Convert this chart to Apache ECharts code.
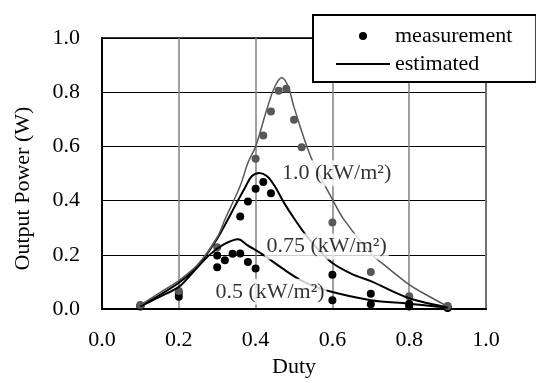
<!DOCTYPE html>
<html>
<head>
<meta charset="utf-8">
<script src="https://cdn.jsdelivr.net/npm/echarts@6/dist/echarts.min.js"></script>
<style>
  html, body { margin: 0; padding: 0; background: #fff; }
  #chart { width: 536px; height: 383px; }
</style>
</head>
<body>
<div id="chart"></div>
<script>
// measured output power [duty, W] for each irradiance
const meas100 = [[0.1, 0.015], [0.2, 0.067], [0.3, 0.228], [0.4, 0.555], [0.42, 0.64], [0.44, 0.729],
  [0.46, 0.805], [0.48, 0.813], [0.5, 0.698], [0.52, 0.597], [0.6, 0.319], [0.7, 0.137], [0.8, 0.047], [0.9, 0.011]];
const meas075 = [[0.1, 0.012], [0.2, 0.06], [0.3, 0.198], [0.36, 0.342], [0.38, 0.397], [0.4, 0.444],
  [0.42, 0.469], [0.44, 0.427], [0.6, 0.127], [0.7, 0.057], [0.8, 0.02], [0.9, 0.006]];
const meas050 = [[0.1, 0.01], [0.2, 0.046], [0.3, 0.154], [0.32, 0.18], [0.34, 0.204], [0.36, 0.205],
  [0.38, 0.174], [0.4, 0.15], [0.6, 0.033], [0.7, 0.018], [0.8, 0.01], [0.9, 0.004]];

// estimated curves
const est100 = [[0.1, 0.015], [0.15, 0.06], [0.2, 0.105], [0.25, 0.165], [0.3, 0.265], [0.32, 0.33],
  [0.36, 0.455], [0.38, 0.54], [0.4, 0.6], [0.43, 0.74], [0.45, 0.82], [0.468, 0.853], [0.485, 0.82],
  [0.5, 0.745], [0.54, 0.575], [0.57, 0.485], [0.6, 0.405], [0.63, 0.33], [0.7, 0.205], [0.733, 0.165],
  [0.8, 0.09], [0.83, 0.064], [0.9, 0.01]];
const est075 = [[0.1, 0.012], [0.15, 0.052], [0.2, 0.097], [0.25, 0.16], [0.3, 0.26], [0.32, 0.31],
  [0.35, 0.39], [0.372, 0.447], [0.39, 0.49], [0.41, 0.502], [0.43, 0.49], [0.45, 0.453], [0.475, 0.39],
  [0.5, 0.335], [0.53, 0.275], [0.56, 0.225], [0.6, 0.17], [0.65, 0.13], [0.7, 0.103], [0.8, 0.04], [0.9, 0.007]];
const est050 = [[0.1, 0.01], [0.15, 0.045], [0.2, 0.082], [0.23, 0.125], [0.28, 0.2], [0.316, 0.238],
  [0.355, 0.258], [0.377, 0.237], [0.42, 0.2], [0.47, 0.15], [0.516, 0.108], [0.56, 0.08], [0.6, 0.063],
  [0.7, 0.033], [0.8, 0.02], [0.9, 0.005]];

// irradiance labels and the [duty, W] point they sit on
const curveLabels = ['1.0 (kW/m²)', '0.75 (kW/m²)', '0.5 (kW/m²)'];
const labelAnchors = [[0.611, 0.501], [0.585, 0.231], [0.4375, 0.064]];

const font = '"Liberation Serif", "Times New Roman", serif';
const gray = '#585858';

function estimated(data, color, width) {
  return {
    name: 'estimated', type: 'line', data: data, smooth: 0.35, symbol: 'none',
    itemStyle: { color: color }, lineStyle: { color: color, width: width }
  };
}
function measured(data, color) {
  return { name: 'measurement', type: 'scatter', data: data, symbolSize: 8, itemStyle: { color: color, opacity: 1 } };
}

const chart = echarts.init(document.getElementById('chart'));
chart.setOption({
  animation: false,
  textStyle: { fontFamily: font },
  grid: { left: 102, right: 50, top: 38, bottom: 67, show: true, borderColor: '#000', borderWidth: 1.5 },
  legend: {
    left: 313, top: 15, orient: 'vertical', selectedMode: false,
    backgroundColor: '#fff', borderColor: '#000', borderWidth: 2,
    padding: [10, 24, 7, 23], itemGap: 6, itemWidth: 54, itemHeight: 8,
    textStyle: { fontFamily: font, fontSize: 22, color: '#000' },
    data: [
      { name: 'measurement', icon: 'circle', itemStyle: { color: '#000', borderWidth: 0 } },
      { name: 'estimated', icon: 'path://M0,0H54V2H0Z', itemStyle: { color: '#000', borderWidth: 0 } }
    ]
  },
  xAxis: {
    type: 'value', min: 0, max: 1, interval: 0.2,
    name: 'Duty', nameLocation: 'middle', nameGap: 46,
    nameTextStyle: { fontFamily: font, fontSize: 22, color: '#000' },
    axisLine: { lineStyle: { color: '#000', width: 2 } },
    axisTick: { show: false },
    axisLabel: { margin: 20, fontFamily: font, fontSize: 22, color: '#000', formatter: v => v.toFixed(1) },
    splitLine: { lineStyle: { color: '#808080', width: 1.5 } }
  },
  yAxis: {
    type: 'value', min: 0, max: 1, interval: 0.2,
    name: 'Output Power (W)', nameLocation: 'middle', nameGap: 68, nameRotate: 90,
    nameTextStyle: { fontFamily: font, fontSize: 22, color: '#000', padding: [0, 30, 0, 0] },
    axisLine: { lineStyle: { color: '#000', width: 2 } },
    axisTick: { show: false },
    axisLabel: { margin: 22, fontFamily: font, fontSize: 22, color: '#000', formatter: v => v.toFixed(1) },
    splitLine: { lineStyle: { color: '#000', width: 1 } }
  },
  series: [
    estimated(est075, '#000', 2),
    estimated(est050, '#000', 2),
    estimated(est100, gray, 1.5),
    measured(meas075, '#000'),
    measured(meas050, '#000'),
    measured(meas100, gray),
    {
      type: 'scatter', symbolSize: 0, silent: true, z: 10,
      data: labelAnchors.map((p, i) => ({ value: p, name: curveLabels[i] })),
      label: {
        show: true, position: 'inside', formatter: '{b}', color: '#000',
        fontFamily: font, fontSize: 22, backgroundColor: '#fff', padding: [2, 2]
      }
    }
  ]
});
</script>
</body>
</html>
